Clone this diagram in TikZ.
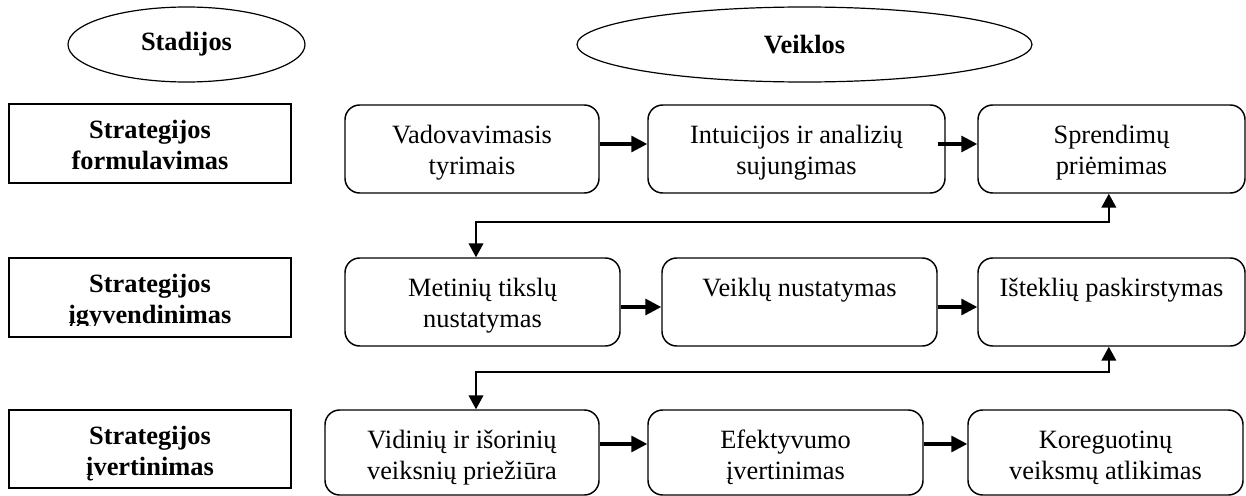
\documentclass[tikz,border=0pt]{standalone}
\usepackage{fontspec}
\setmainfont{Liberation Serif}
\usetikzlibrary{shapes.geometric,arrows.meta,fit}
\begin{document}
\begin{tikzpicture}[x=0.75pt,y=-0.75pt,
  every node/.style={font=\fontsize{19.8pt}{22.9pt}\selectfont},
  stagebox/.style={draw, line width=1.2pt, inner sep=0pt},
  actbox/.style={draw, line width=1.1pt, rounded corners=11pt, inner sep=0pt},
  oval/.style={draw, ellipse, line width=0.9pt, inner sep=0pt,
    font=\fontsize{19.8pt}{22.9pt}\selectfont\bfseries},
  acttxt/.style={anchor=north, align=center, inner sep=0pt},
  stagetxt/.style={anchor=north, align=center, inner sep=0pt,
    font=\fontsize{19.8pt}{23.2pt}\selectfont\bfseries},
  harrow/.style={line width=2.4pt, -{Triangle[length=12pt,width=12pt]}},
  conn/.style={line width=1.5pt,
    {Triangle[length=10.5pt,width=11pt]}-{Triangle[length=10.5pt,width=11pt]}}]
\useasboundingbox (0,0) rectangle (1246,496);

% header ovals
\node[oval, minimum width=177.75pt, minimum height=56.25pt] (stad) at (186.5,44.5) {Stadijos};
\node[oval, minimum width=341.25pt, minimum height=56.25pt] (veik) at (804.5,44.5) {Veiklos};

% stage boxes
\node[stagebox, fit={(9,104) (291,183)}] (s1) {};
\node[stagebox, fit={(9,258) (291,337)}] (s2) {};
\node[stagebox, fit={(9,410) (291,488)}] (s3) {};
\node[stagetxt] (s1t) at ([yshift=-6.25pt]s1.north) {\rule{0pt}{20pt}Strategijos\\formulavimas};
\begin{scope}
  \clip (9,258) rectangle (291,325.5);
  \node[stagetxt] (s2t) at ([yshift=-6.25pt]s2.north) {\rule{0pt}{20pt}Strategijos\\įgyvendinimas};
\end{scope}
\node[stagetxt] (s3t) at ([yshift=-6.25pt]s3.north) {\rule{0pt}{20pt}Strategijos\\įvertinimas};

% activity boxes
\node[actbox, fit={(345,105) (599,193)}] (a1) {};
\node[actbox, fit={(648,105) (945,193)}] (a2) {};
\node[actbox, fit={(978,105) (1245,193)}] (a3) {};
\node[actbox, fit={(345,258) (620,346)}] (b1) {};
\node[actbox, fit={(662,258) (937,346)}] (b2) {};
\node[actbox, fit={(978,258) (1245,346)}] (b3) {};
\node[actbox, fit={(325,410) (599,495)}] (c1) {};
\node[actbox, fit={(648,410) (923,495)}] (c2) {};
\node[actbox, fit={(968,410) (1243,495)}] (c3) {};

\node[acttxt] (a1t) at ([yshift=-9.25pt]a1.north) {\rule{0pt}{20pt}Vadovavimasis\\tyrimais};
\node[acttxt] (a2t) at ([yshift=-9.25pt]a2.north) {\rule{0pt}{20pt}Intuicijos ir analizių\\sujungimas};
\node[acttxt] (a3t) at ([yshift=-9.25pt]a3.north) {\rule{0pt}{20pt}Sprendimų\\priėmimas};
\node[acttxt] (b1t) at ([yshift=-9.25pt]b1.north) {\rule{0pt}{20pt}Metinių tikslų\\nustatymas};
\node[acttxt] (b2t) at ([yshift=-9.25pt]b2.north) {\rule{0pt}{20pt}Veiklų nustatymas};
\node[acttxt] (b3t) at ([yshift=-9.25pt]b3.north) {\rule{0pt}{20pt}Išteklių paskirstymas};
\node[acttxt] (c1t) at ([yshift=-9.25pt]c1.north) {\rule{0pt}{20pt}Vidinių ir išorinių\\veiksnių priežiūra};
\node[acttxt] (c2t) at ([yshift=-9.25pt]c2.north) {\rule{0pt}{20pt}Efektyvumo\\įvertinimas};
\node[acttxt] (c3t) at ([yshift=-9.25pt]c3.north) {\rule{0pt}{20pt}Koreguotinų\\veiksmų atlikimas};

% horizontal arrows
\draw[harrow] ([yshift=3.75pt]a1.east) -- ([yshift=3.75pt]a2.west);
\draw[harrow] ([xshift=-6pt,yshift=3.75pt]a2.east) -- ([yshift=3.75pt]a3.west);
\draw[harrow] ([yshift=-3.75pt]b1.east) -- ([yshift=-3.75pt]b2.west);
\draw[harrow] ([yshift=-3.75pt]b2.east) -- ([yshift=-3.75pt]b3.west);
\draw[harrow] ([yshift=6.4pt]c1.east) -- ([yshift=6.4pt]c2.west);
\draw[harrow] ([yshift=6.4pt]c2.east) -- ([yshift=6.4pt]c3.west);

% elbow connectors
\coordinate (m1) at (476,222);
\coordinate (m2) at (476,372);
\draw[conn] ([xshift=-2pt]a3.south) |- (m1) -- (m1 |- b1.north);
\draw[conn] ([xshift=-2pt]b3.south) |- (m2) -- (m2 |- c1.north);
\end{tikzpicture}
\end{document}
